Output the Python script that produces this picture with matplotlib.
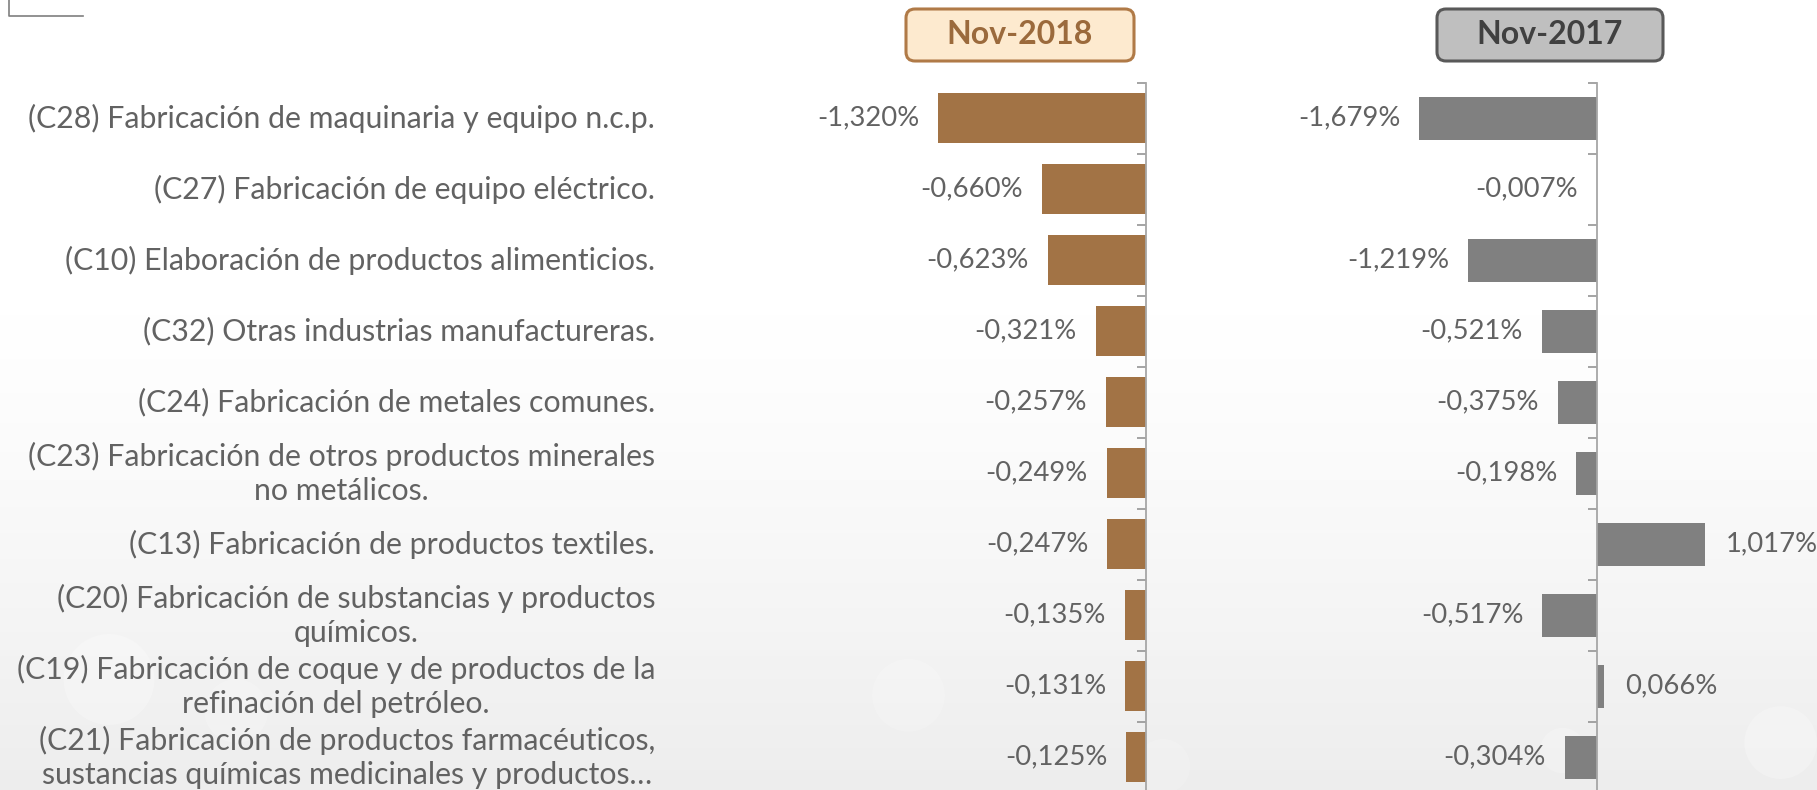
import numpy as np
import matplotlib
matplotlib.use("Agg")
import matplotlib.pyplot as plt
import matplotlib.transforms as mtransforms
from matplotlib.patches import FancyBboxPatch
from matplotlib.lines import Line2D

# ---------------- data ----------------
categories = [
    "(C28) Fabricación de maquinaria y equipo n.c.p.",
    "(C27) Fabricación de equipo eléctrico.",
    "(C10) Elaboración de productos alimenticios.",
    "(C32) Otras industrias manufactureras.",
    "(C24) Fabricación de metales comunes.",
    "(C23) Fabricación de otros productos minerales\nno metálicos.",
    "(C13) Fabricación de productos textiles.",
    "(C20) Fabricación de substancias y productos\nquímicos.",
    "(C19) Fabricación de coque y de productos de la\nrefinación del petróleo.",
    "(C21) Fabricación de productos farmacéuticos,\nsustancias químicas medicinales y productos…",
]
nov2018 = [-1.320, -0.660, -0.623, -0.321, -0.257, -0.249, -0.247, -0.135, -0.131, -0.125]
nov2017 = [-1.679, -0.007, -1.219, -0.521, -0.375, -0.198, 1.017, -0.517, 0.066, -0.304]
panel_titles = ["Nov-2018", "Nov-2017"]

# ---------------- styling ----------------
W, H, DPI = 1817, 790, 100
FONT = "Lato"
TXT = "#626262"
BROWN = "#A27345"
GREY = "#808080"

fig = plt.figure(figsize=(W / DPI, H / DPI), dpi=DPI)
fig.patch.set_facecolor("white")

# background gradient
bg = fig.add_axes([0, 0, 1, 1], zorder=-10)
yy = np.linspace(0, 1, 400)[:, None]
shade = np.clip((yy - 0.40) / 0.60, 0, 1) ** 1.2
vals = 1.0 - 0.07 * shade
img = np.dstack([vals, vals, vals])
img = np.repeat(img, 10, axis=1)
bg.imshow(img, aspect="auto", extent=[0, 1, 0, 1], origin="upper")
# faint bokeh spots
for (cx, cy, r, a) in [(0.06, 0.14, 0.05, 0.25), (0.13, 0.10, 0.035, 0.2),
                       (0.50, 0.12, 0.04, 0.18), (0.98, 0.06, 0.04, 0.25),
                       (0.86, 0.05, 0.025, 0.2), (0.64, 0.03, 0.03, 0.15)]:
    bg.add_patch(matplotlib.patches.Ellipse((cx, cy), r, r * W / H,
                                            color="white", alpha=a, lw=0))
bg.set_xlim(0, 1); bg.set_ylim(0, 1)
bg.axis("off")

# geometry (pixels)
top_px, row_px, nrows = 82.7, 71.0, len(categories)
ax_bottom = (H - (top_px + row_px * nrows)) / H
ax_height = row_px * nrows / H

panels = [
    dict(vals=nov2018, color=BROWN, zero=1146.0, scale=157.3, x0=700, x1=1300, hbar=0.70),
    dict(vals=nov2017, color=GREY, zero=1597.3, scale=106.0, x0=1310, x1=1817, hbar=0.61),
]

axes = []
for p in panels:
    ax = fig.add_axes([p["x0"] / W, ax_bottom, (p["x1"] - p["x0"]) / W, ax_height])
    ax.patch.set_alpha(0)
    ax.set_xlim((p["x0"] - p["zero"]) / p["scale"], (p["x1"] - p["zero"]) / p["scale"])
    ax.set_ylim(nrows - 0.5, -0.5)
    ypos = np.arange(nrows)
    ax.barh(ypos, p["vals"], height=p["hbar"], color=p["color"], zorder=2)
    for s in ["top", "right", "bottom"]:
        ax.spines[s].set_visible(False)
    ax.spines["left"].set_position(("data", 0))
    ax.spines["left"].set_color("#a6a6a6")
    ax.spines["left"].set_linewidth(1.3)
    ax.set_xticks([])
    ax.set_yticks(np.arange(nrows + 1) - 0.5)
    ax.set_yticklabels([])
    ax.tick_params(axis="y", direction="out", length=6.5, width=1.1, color="#8c8c8c")
    for y, v in zip(ypos, p["vals"]):
        lab = f"{v:.3f}".replace(".", ",") + "%"
        if v < 0:
            ax.annotate(lab, (v, y), xytext=(-19, 0), textcoords="offset pixels",
                        ha="right", va="center", color=TXT, family=FONT, fontsize=19.7)
        else:
            ax.annotate(lab, (v, y), xytext=(21, 0), textcoords="offset pixels",
                        ha="left", va="center", color=TXT, family=FONT, fontsize=19.7)
    axes.append(ax)

# category labels
trans = mtransforms.blended_transform_factory(fig.transFigure, axes[0].transData)
for i, c in enumerate(categories):
    fig.text(655 / W, i, c, transform=trans, ha="right", va="center",
             multialignment="center", color=TXT, family=FONT, fontsize=21.8,
             linespacing=1.24)

# panel title boxes
ident = mtransforms.IdentityTransform()
boxes = [
    dict(x=906, y=9, w=228, h=52, fc="#FDEACF", ec="#B07A47", tc="#9B6A3C"),
    dict(x=1437, y=9, w=226, h=52, fc="#BFBFBF", ec="#595959", tc="#404040"),
]
for b, t in zip(boxes, panel_titles):
    patch = FancyBboxPatch((b["x"], H - b["y"] - b["h"]), b["w"], b["h"],
                           boxstyle="round,pad=0,rounding_size=9",
                           fc=b["fc"], ec=b["ec"], lw=2.2, transform=ident)
    fig.add_artist(patch)
    fig.text((b["x"] + b["w"] / 2) / W, 1 - (b["y"] + b["h"] / 2) / H, t,
             ha="center", va="center", color=b["tc"], family=FONT,
             fontweight="bold", fontsize=23)

# small corner mark top-left
fig.add_artist(Line2D([9 / W, 9 / W, 83 / W], [1, 1 - 16 / H, 1 - 16 / H],
                      transform=fig.transFigure, color="#7f7f7f", lw=1.2))

fig.savefig("out.png", dpi=DPI)
